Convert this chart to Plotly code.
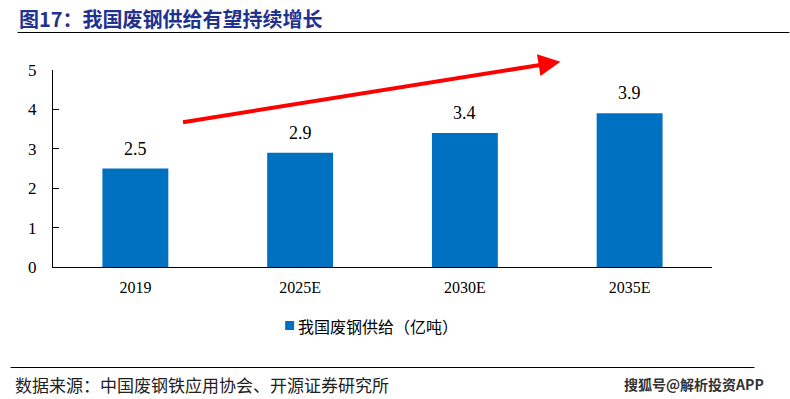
import plotly.graph_objects as go

categories = ["2019", "2025E", "2030E", "2035E"]
values = [2.5, 2.9, 3.4, 3.9]
y_ticks = [0, 1, 2, 3, 4, 5]
series_name = "我国废钢供给（亿吨）"
title_text = "图17：我国废钢供给有望持续增长"
source_text = "数据来源：中国废钢铁应用协会、开源证券研究所"
watermark_text = "搜狐号@解析投资APP"

BAR = "#0070C0"
SERIF = "Liberation Serif, Times New Roman, serif"
CJK = "Noto Sans CJK SC"

W, H = 790, 399
L, R, T, B = 52.5, 712.5, 70, 267  # plot area in pixels


def px(x):
    return (x - L) / (R - L)


def py(y):
    return (B - y) / (B - T)


fig = go.Figure()
fig.add_trace(go.Bar(
    x=categories, y=values, name=series_name,
    marker=dict(color=BAR, line=dict(width=0)),
    width=0.4, showlegend=False,
))

for i, v in enumerate(values):
    fig.add_annotation(x=i, y=v, xref="x", yref="y", text=f"{v:.1f}",
                       showarrow=False, yanchor="bottom", yshift=8,
                       font=dict(family=SERIF, size=18, color="#000"))

fig.update_layout(
    width=W, height=H,
    margin=dict(l=L, r=W - R, t=T, b=H - B, pad=0),
    paper_bgcolor="white", plot_bgcolor="white",
    showlegend=False,
    xaxis=dict(type="category", categoryarray=categories,
               showline=True, linecolor="#000", linewidth=1, ticks="",
               tickfont=dict(family=SERIF, size=16, color="#000"),
               ticklabelstandoff=6,
               showgrid=False, zeroline=False),
    yaxis=dict(range=[0, 5], tickvals=y_ticks, showline=True, linecolor="#000",
               linewidth=1, ticks="inside", ticklen=6, tickcolor="#000",
               tickfont=dict(family=SERIF, size=17, color="#000"),
               ticklabelstandoff=12,
               showgrid=False, zeroline=False),
)

# trend arrow
fig.add_annotation(x=2.58, y=5.21, ax=0.28, ay=3.67, xref="x", yref="y",
                   axref="x", ayref="y", text="", showarrow=True,
                   arrowhead=2, arrowsize=1.1, arrowwidth=4, arrowcolor="#FF0000")

# title and rule
fig.add_annotation(x=px(16), y=py(18), xref="paper", yref="paper",
                   xanchor="left", yanchor="middle", showarrow=False,
                   text="<b>" + title_text + "</b>",
                   font=dict(family=CJK, size=20, color="#1F3290"))
fig.add_shape(type="line", xref="paper", yref="paper",
              x0=px(17), x1=px(790), y0=py(32.5), y1=py(32.5),
              line=dict(color="#000", width=1))

# legend (manual)
fig.add_shape(type="rect", xref="paper", yref="paper",
              x0=px(285), x1=px(294), y0=py(330), y1=py(321),
              fillcolor=BAR, line=dict(width=0))
fig.add_annotation(x=px(296), y=py(325.5), xref="paper", yref="paper",
                   xanchor="left", yanchor="middle", showarrow=False,
                   text=series_name, font=dict(family=CJK, size=16, color="#000"))

# bottom rule and source
fig.add_shape(type="line", xref="paper", yref="paper",
              x0=px(10), x1=px(755), y0=py(367.5), y1=py(367.5),
              line=dict(color="#000", width=1))
fig.add_annotation(x=px(12), y=py(384), xref="paper", yref="paper",
                   xanchor="left", yanchor="middle", showarrow=False,
                   text=source_text, font=dict(family=CJK, size=17, color="#222"))
fig.add_annotation(x=px(767), y=py(384), xref="paper", yref="paper",
                   xanchor="right", yanchor="middle", showarrow=False,
                   text="<b>" + watermark_text + "</b>",
                   font=dict(family=CJK, size=14, color="#333"))

fig.write_html("out.html", config={"displayModeBar": False},
               post_script="document.body.style.margin='0';document.body.style.overflow='hidden';")
